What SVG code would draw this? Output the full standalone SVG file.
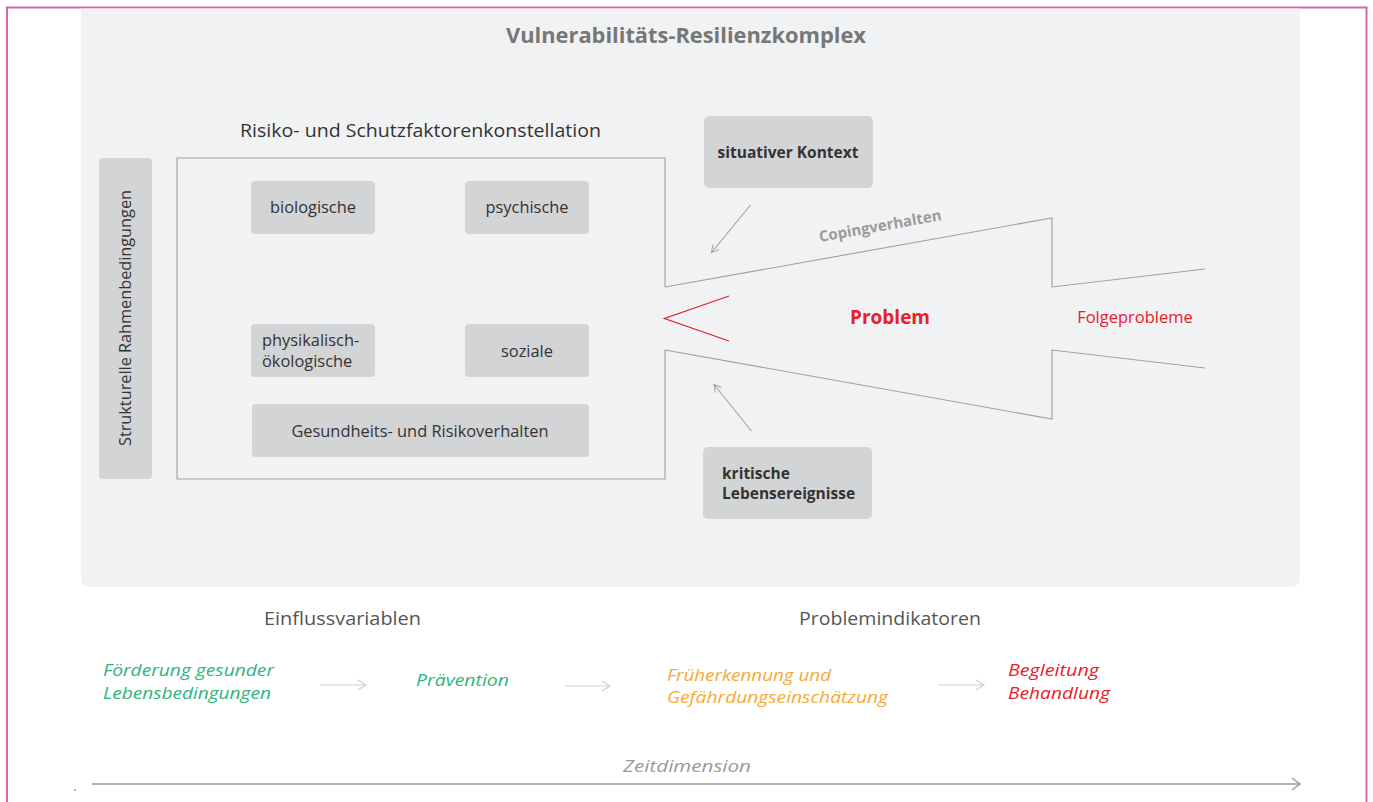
<svg xmlns="http://www.w3.org/2000/svg" width="1373" height="802" viewBox="0 0 1373 802">
<defs>
<style>
.box{fill:#d3d4d6}
.lbl{font-family:"Open Sans","Noto Sans",sans-serif;font-size:16.4px;fill:#333}
.blbl{font-family:"Open Sans","Noto Sans",sans-serif;font-size:15.5px;font-weight:bold;fill:#333}
.line{fill:none;stroke:#a0a0a0;stroke-width:1.1}
.it{font-family:"Open Sans","Noto Sans",sans-serif;font-style:italic;font-size:17px}
.hdr{font-family:"Open Sans","Noto Sans",sans-serif;font-size:18px;fill:#555}
</style>
<marker id="ah" markerWidth="10" markerHeight="10" refX="8" refY="5" orient="auto" markerUnits="userSpaceOnUse">
<path d="M1,1 L8,5 L1,9" fill="none" stroke="#a0a0a0" stroke-width="1"/>
</marker>
<marker id="ahl" markerWidth="12" markerHeight="12" refX="10" refY="6" orient="auto" markerUnits="userSpaceOnUse">
<path d="M2,1 L10,6 L2,11" fill="none" stroke="#cfcfcf" stroke-width="1.2"/>
</marker>
<marker id="aht" markerWidth="14" markerHeight="14" refX="11" refY="7" orient="auto" markerUnits="userSpaceOnUse">
<path d="M3,1 L11,7 L3,13" fill="none" stroke="#999" stroke-width="1.5"/>
</marker>
</defs>
<rect x="0" y="0" width="1373" height="802" fill="#ffffff"/>
<path d="M7,810 L7,7.5 L1366.5,7.5 L1366.5,810" fill="none" stroke="#d966a8" stroke-width="2"/>
<path d="M81,8.5 H1300 V578 Q1300,587 1291,587 H90 Q81,587 81,578 Z" fill="#f1f2f4"/>
<text x="686" y="43" text-anchor="middle" font-family="'Open Sans','Noto Sans',sans-serif" font-size="21" font-weight="bold" fill="#777" textLength="360" lengthAdjust="spacingAndGlyphs">Vulnerabilitäts-Resilienzkomplex</text>
<text x="240" y="137" font-family="'Open Sans','Noto Sans',sans-serif" font-size="18" fill="#333" textLength="361" lengthAdjust="spacingAndGlyphs">Risiko- und Schutzfaktorenkonstellation</text>

<g id="frame">
<path class="line" d="M665,287 V158 H177 V479 H665 V350"/>
</g>
<g id="strukturelle">
<rect class="box" x="99" y="158" width="53" height="321" rx="4"/>
<text class="lbl" font-size="16" transform="translate(131,318) rotate(-90)" text-anchor="middle" textLength="256" lengthAdjust="spacingAndGlyphs">Strukturelle Rahmenbedingungen</text>
</g>
<g id="biologische">
<rect class="box" x="251" y="181" width="124" height="53" rx="4"/>
<text class="lbl" x="313" y="213" text-anchor="middle">biologische</text>
</g>
<g id="psychische">
<rect class="box" x="465" y="181" width="124" height="53" rx="4"/>
<text class="lbl" x="527" y="213" text-anchor="middle">psychische</text>
</g>
<g id="physikalisch">
<rect class="box" x="251" y="324" width="124" height="53" rx="4"/>
<text class="lbl" x="262" y="346">physikalisch-</text>
<text class="lbl" x="262" y="367">ökologische</text>
</g>
<g id="soziale">
<rect class="box" x="465" y="324" width="124" height="53" rx="4"/>
<text class="lbl" x="527" y="357" text-anchor="middle">soziale</text>
</g>
<g id="gesundheit">
<rect class="box" x="252" y="404" width="337" height="53" rx="4"/>
<text class="lbl" x="420" y="437" text-anchor="middle">Gesundheits- und Risikoverhalten</text>
</g>
<g id="situativ">
<rect class="box" x="704" y="116" width="169" height="72" rx="5"/>
<text class="blbl" x="788" y="158" text-anchor="middle">situativer Kontext</text>
</g>
<g id="kritisch">
<rect class="box" x="703" y="447" width="169" height="72" rx="5"/>
<text class="blbl" x="722" y="479">kritische</text>
<text class="blbl" x="722" y="499">Lebensereignisse</text>
</g>

<g id="problem">
<path class="line" d="M665,287 L1052,218 V287 L1205,269"/>
<path class="line" d="M665,350 L1052,419 V350 L1205,368"/>
<path d="M729,296 L664.5,318.5 L729,341" fill="none" stroke="#e8202a" stroke-width="1.3"/>
<text x="890" y="324" text-anchor="middle" font-family="'Open Sans','Noto Sans',sans-serif" font-size="19" font-weight="bold" fill="#e8202a">Problem</text>
<text x="1135" y="323" text-anchor="middle" font-family="'Open Sans','Noto Sans',sans-serif" font-size="16.5" fill="#e8202a">Folgeprobleme</text>
<text transform="translate(881,231) rotate(-10.2)" text-anchor="middle" font-family="'Open Sans','Noto Sans',sans-serif" font-size="15" font-weight="bold" fill="#9a9a9a">Copingverhalten</text>
</g>

<g id="connectors">
<line class="line" x1="750.5" y1="205" x2="711.5" y2="252.5" marker-end="url(#ah)" stroke-width="1"/>
<line class="line" x1="751.5" y1="431" x2="714" y2="384.5" marker-end="url(#ah)" stroke-width="1"/>
<line x1="320" y1="685" x2="366" y2="685" stroke="#cfcfcf" stroke-width="1.2" marker-end="url(#ahl)"/>
<line x1="565" y1="686" x2="610" y2="686" stroke="#cfcfcf" stroke-width="1.2" marker-end="url(#ahl)"/>
<line x1="938" y1="685" x2="984" y2="685" stroke="#cfcfcf" stroke-width="1.2" marker-end="url(#ahl)"/>
<line x1="92" y1="784" x2="1300" y2="784" stroke="#999" stroke-width="1.5" marker-end="url(#aht)"/>
</g>

<text class="hdr" x="264" y="625" textLength="157" lengthAdjust="spacingAndGlyphs">Einflussvariablen</text>
<text class="hdr" x="799" y="625" textLength="182" lengthAdjust="spacingAndGlyphs">Problemindikatoren</text>

<g id="foerderung">
<text class="it" x="103" y="676" fill="#2db57a" textLength="171" lengthAdjust="spacingAndGlyphs">Förderung gesunder</text>
<text class="it" x="103" y="699" fill="#2db57a" textLength="168" lengthAdjust="spacingAndGlyphs">Lebensbedingungen</text>
</g>
<g id="praevention">
<text class="it" x="416" y="686" fill="#2db57a" textLength="93" lengthAdjust="spacingAndGlyphs">Prävention</text>
</g>
<g id="frueherkennung">
<text class="it" x="667" y="681" fill="#f7a935" textLength="164" lengthAdjust="spacingAndGlyphs">Früherkennung und</text>
<text class="it" x="667" y="703" fill="#f7a935" textLength="221" lengthAdjust="spacingAndGlyphs">Gefährdungseinschätzung</text>
</g>
<g id="begleitung">
<text class="it" x="1008" y="676" fill="#e8202a" textLength="91" lengthAdjust="spacingAndGlyphs">Begleitung</text>
<text class="it" x="1008" y="699" fill="#e8202a" textLength="102" lengthAdjust="spacingAndGlyphs">Behandlung</text>
</g>
<text class="it" x="623" y="772" font-size="18" fill="#999" textLength="128" lengthAdjust="spacingAndGlyphs">Zeitdimension</text>
<circle cx="75" cy="790" r="0.8" fill="#666"/>
</svg>
